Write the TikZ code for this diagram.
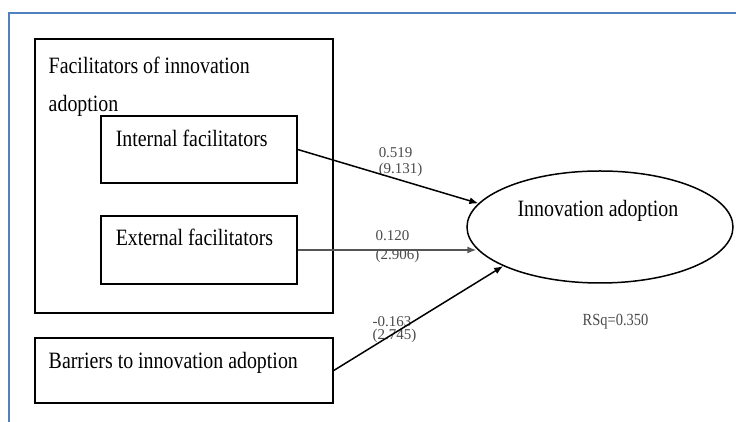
\documentclass[tikz,border=0pt]{standalone}
\usepackage{fontspec}
\setmainfont{Liberation Serif}[FakeStretch=0.85]
\newfontfamily\coeffont{Liberation Serif}
\usetikzlibrary{shapes.geometric,arrows.meta}
\definecolor{frameblue}{HTML}{4F81BD}
\definecolor{pathgray}{HTML}{555555}
\definecolor{coefgray}{HTML}{4A4A4A}

\begin{document}
\begin{tikzpicture}[x=0.5pt, y=-0.5pt, >={Latex[length=4.5pt,width=3.5pt]}, line width=0.75pt]

\useasboundingbox (0,0) rectangle (736,422);
\draw [frameblue, line width=1pt] (9,422) -- (9,13) -- (736,13);

\tikzstyle{every node}=[rectangle, draw, inner sep=0pt]
\draw (184,176)   node [minimum width=149pt, minimum height=137pt] (facil) {}
      (199,149.5) node [minimum width=98pt, minimum height=33.5pt] (intf) {}
      (199,250)   node [minimum width=98pt, minimum height=34pt] (extf) {}
      (184,370.5) node [minimum width=149pt, minimum height=32.5pt] (barr) {};

\tikzstyle{every node}=[ellipse, draw, inner sep=0pt]
\draw (600,227) node [minimum width=133pt, minimum height=56pt] (adopt) {};

\tikzstyle{every node}=[inner sep=0pt, anchor=base west, font=\fontsize{11.7}{19}\selectfont]
\draw (48,56)   node [anchor=north west, align=left] (facil-t) {Facilitators of innovation\\adoption}
      (115,147) node (intf-t) {Internal facilitators}
      (115,246) node (extf-t) {External facilitators}
      (48,369)  node (barr-t) {Barriers to innovation adoption}
      (598,217) node [anchor=base] (adopt-t) {Innovation adoption}
      (582,326) node [text=coefgray, font=\fontsize{8.5}{10}\selectfont] (rsq) {RSq=0.350};

\tikzstyle{every node}=[inner sep=0pt, anchor=base west, text=coefgray, font=\coeffont\fontsize{7.5}{9}\selectfont]
\draw (378,158) node (b-int) {0.519}
      (378,174) node (t-int) {(9.131)}
      (375,241) node (b-ext) {0.120}
      (375,260) node (t-ext) {(2.906)}
      (372,327) node (b-bar) {-0.163}
      (372,340) node (t-bar) {(2.745)};

\draw [->] (intf.east) -- (adopt.169);
\draw [->, pathgray, line width=1.2pt] (extf.east) -- (extf.east -| adopt.190);
\draw [->] (barr.east) -- (adopt.202);

\end{tikzpicture}
\end{document}
